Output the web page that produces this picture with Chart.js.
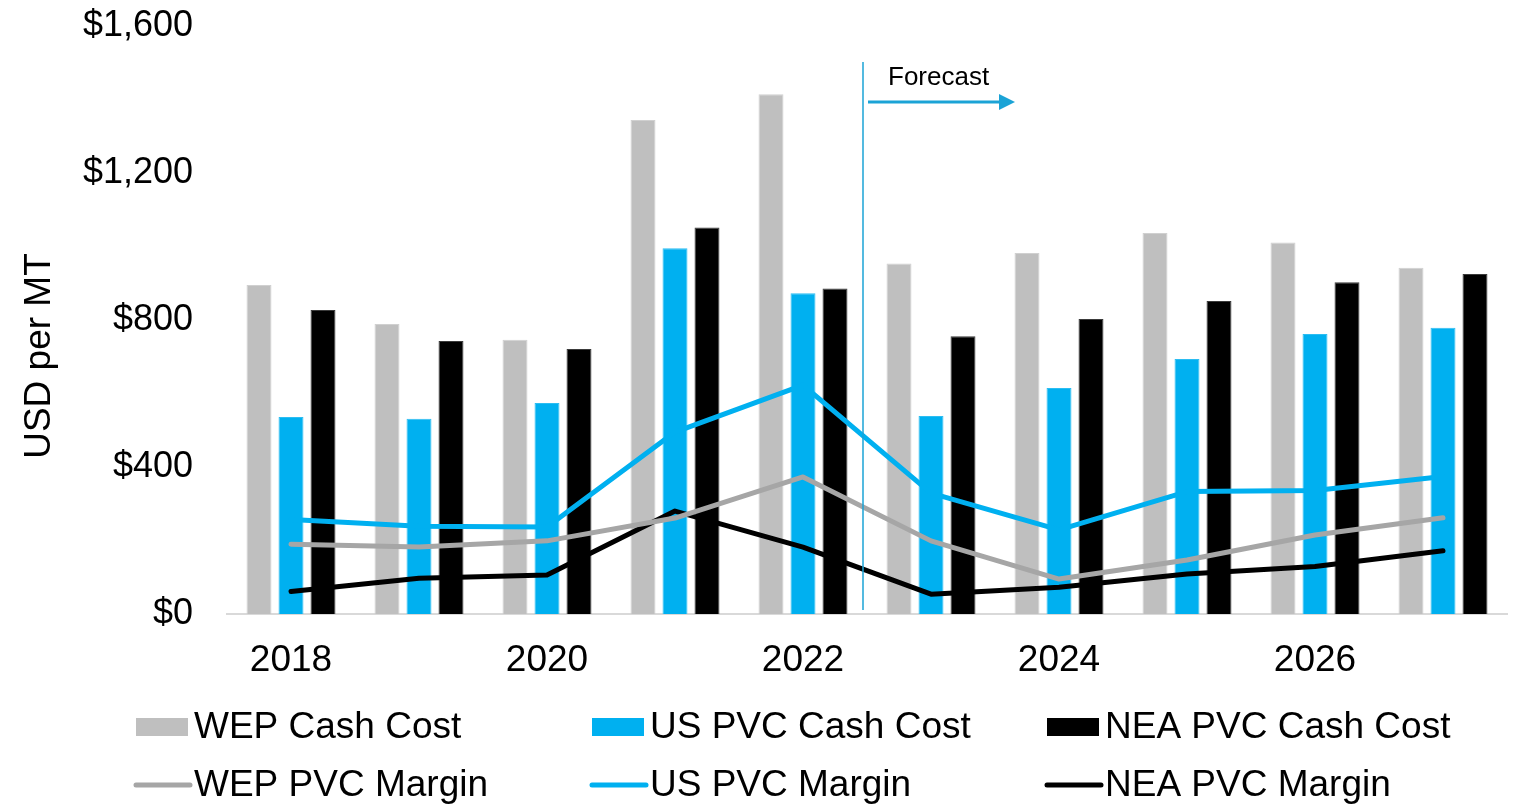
<!DOCTYPE html>
<html>
<head>
<meta charset="utf-8">
<script src="https://cdn.jsdelivr.net/npm/chart.js@4/dist/chart.umd.min.js"></script>
<style>
  html, body { margin: 0; padding: 0; background: #ffffff; }
  #wrap { position: relative; width: 1515px; height: 807px; }
</style>
</head>
<body>
<div id="wrap"><canvas id="c" width="1515" height="807"></canvas></div>
<script>
const years = ['2018','2019','2020','2021','2022','2023','2024','2025','2026','2027'];
const wepCashCost = [895, 789, 746, 1344, 1414, 954, 982, 1037, 1011, 942];
const usPvcCashCost = [536, 531, 574, 995, 873, 539, 615, 694, 762, 779];
const neaPvcCashCost = [827, 743, 721, 1052, 886, 756, 803, 852, 903, 925];
const wepPvcMargin = [190, 182, 199, 261, 373, 199, 95, 147, 215, 262];
const usPvcMargin = [257, 239, 237, 495, 623, 329, 229, 333, 336, 374];
const neaPvcMargin = [61, 97, 106, 280, 182, 54, 73, 109, 129, 172];
const yTicks = [0, 400, 800, 1200, 1600];
const yTitle = 'USD per MT';
const forecastLabel = 'Forecast';

const FONT = '"Liberation Sans", Arial, sans-serif';

const legendPlugin = {
  id: 'gridLegend',
  afterDraw(chart) {
    const ctx = chart.ctx;
    const ds = chart.data.datasets;
    const cols = [136, 592, 1047];
    const rows = [727, 785];
    ctx.save();
    ctx.font = '37px ' + FONT;
    ctx.textBaseline = 'middle';
    ctx.textAlign = 'left';
    ds.forEach((d, i) => {
      const col = i % 3, row = Math.floor(i / 3);
      const x = cols[col], y = rows[row];
      if (d.type === 'line') {
        ctx.strokeStyle = d.borderColor;
        ctx.lineWidth = 5;
        ctx.lineCap = 'round';
        ctx.beginPath();
        ctx.moveTo(x, y);
        ctx.lineTo(x + 54, y);
        ctx.stroke();
      } else {
        ctx.fillStyle = d.backgroundColor;
        ctx.fillRect(x, y - 9, 52, 18);
      }
      ctx.fillStyle = '#000000';
      ctx.fillText(d.label, x + 58, y + 1);
    });
    // y-axis title
    ctx.save();
    ctx.translate(40, 356);
    ctx.rotate(-Math.PI / 2);
    ctx.textAlign = 'center';
    ctx.textBaseline = 'middle';
    ctx.font = '37px ' + FONT;
    ctx.fillText(yTitle, 0, 0);
    ctx.restore();
    ctx.restore();
  }
};

const forecastPlugin = {
  id: 'forecast',
  afterDatasetsDraw(chart) {
    const ctx = chart.ctx;
    const xs = chart.scales.x;
    const x = (xs.getPixelForValue(4) + xs.getPixelForValue(5)) / 2 - 4;
    ctx.save();
    ctx.strokeStyle = '#1BA3D6';
    ctx.lineWidth = 1.5;
    ctx.beginPath();
    ctx.moveTo(x, 62);
    ctx.lineTo(x, 610);
    ctx.stroke();
    ctx.lineWidth = 3;
    ctx.beginPath();
    ctx.moveTo(x + 5, 102);
    ctx.lineTo(x + 138, 102);
    ctx.stroke();
    ctx.fillStyle = '#1BA3D6';
    ctx.beginPath();
    ctx.moveTo(x + 136, 94);
    ctx.lineTo(x + 152, 102);
    ctx.lineTo(x + 136, 110);
    ctx.closePath();
    ctx.fill();
    ctx.fillStyle = '#000000';
    ctx.font = '26px ' + FONT;
    ctx.textBaseline = 'middle';
    ctx.textAlign = 'left';
    ctx.fillText(forecastLabel, x + 25, 78);
    ctx.restore();
  }
};

new Chart(document.getElementById('c'), {
  data: {
    labels: years,
    datasets: [
      { type: 'bar', label: 'WEP Cash Cost', data: wepCashCost, backgroundColor: '#BFBFBF', borderColor: '#D0D0D0', borderWidth: 1, order: 2, categoryPercentage: 0.75, barPercentage: 0.78 },
      { type: 'bar', label: 'US PVC Cash Cost', data: usPvcCashCost, backgroundColor: '#00B0F0', borderColor: '#2BBDF2', borderWidth: 1, order: 2, categoryPercentage: 0.75, barPercentage: 0.78 },
      { type: 'bar', label: 'NEA PVC Cash Cost', data: neaPvcCashCost, backgroundColor: '#000000', borderColor: '#3A3A3A', borderWidth: 1, order: 2, categoryPercentage: 0.75, barPercentage: 0.78 },
      { type: 'line', label: 'WEP PVC Margin', data: wepPvcMargin, borderColor: '#A6A6A6', backgroundColor: '#A6A6A6', borderWidth: 5, pointRadius: 0, tension: 0, borderCapStyle: 'round', borderJoinStyle: 'round', order: 1 },
      { type: 'line', label: 'US PVC Margin', data: usPvcMargin, borderColor: '#00B0F0', backgroundColor: '#00B0F0', borderWidth: 5, pointRadius: 0, tension: 0, borderCapStyle: 'round', borderJoinStyle: 'round', order: 1 },
      { type: 'line', label: 'NEA PVC Margin', data: neaPvcMargin, borderColor: '#000000', backgroundColor: '#000000', borderWidth: 5, pointRadius: 0, tension: 0, borderCapStyle: 'round', borderJoinStyle: 'round', order: 1 }
    ]
  },
  options: {
    responsive: false,
    animation: false,
    layout: { padding: { left: 14, right: 8, top: 26, bottom: 125 } },
    plugins: {
      legend: { display: false },
      tooltip: { enabled: false }
    },
    scales: {
      x: {
        type: 'category',
        offset: true,
        grid: { display: false, drawTicks: false },
        border: { display: true, color: '#D9D9D9', width: 2 },
        ticks: {
          autoSkip: false,
          maxRotation: 0,
          padding: 25,
          color: '#000000',
          font: { family: FONT, size: 37 },
          callback: function(value, index) { return index % 2 === 0 ? this.getLabelForValue(value) : ''; }
        },
        afterFit(scale) { scale.height = 68; scale.paddingLeft = 0; scale.paddingRight = 0; }
      },
      y: {
        min: 0,
        max: 1600,
        afterBuildTicks(scale) { scale.ticks = yTicks.map(v => ({ value: v })); },
        grid: { display: false, drawTicks: false },
        border: { display: false },
        title: { display: false },
        ticks: {
          padding: 34,
          color: '#000000',
          font: { family: FONT, size: 36 },
          callback: (v) => '$' + Number(v).toLocaleString('en-US')
        },
        afterFit(scale) { scale.width = 213; scale.paddingTop = 0; scale.paddingBottom = 0; }
      }
    }
  },
  plugins: [forecastPlugin, legendPlugin]
});
</script>
</body>
</html>
